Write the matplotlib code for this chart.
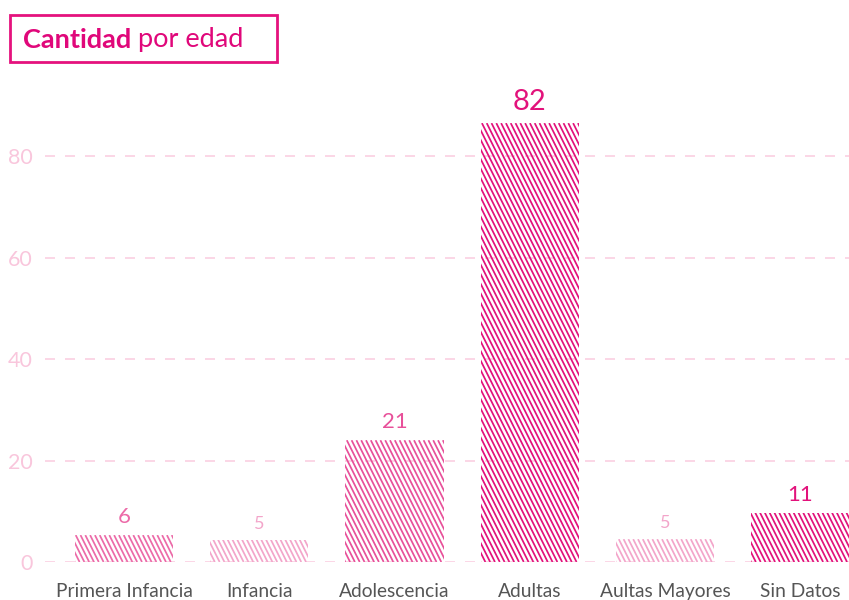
import matplotlib
matplotlib.use("Agg")
import matplotlib.pyplot as plt
from matplotlib.patches import Rectangle
from matplotlib.collections import LineCollection
import numpy as np

# data
categorias = ["Primera Infancia", "Infancia", "Adolescencia", "Adultas", "Aultas Mayores", "Sin Datos"]
cantidad = [6, 5, 21, 82, 5, 11]            # labels printed over the bars
altura = [5.3, 4.4, 24.0, 86.5, 4.5, 9.7]    # drawn bar heights as seen on the axis
y_ticks = [0, 20, 40, 60, 80]

colores = ["#ec6aa8", "#f3a5ca", "#e8509a", "#e2127b", "#f3a5ca", "#e2127b"]
tam_label = [16, 13, 16, 21, 13, 16]

plt.rcParams['font.family'] = ['Lato', 'DejaVu Sans']

fig = plt.figure(figsize=(8.49, 6.0), dpi=100)
W, H = 849, 600
ax = fig.add_axes([45 / W, 38 / H, (W - 45) / W, (562 - 80) / H])

ax.set_xlim(-0.584, 5.36)
ax.set_ylim(0, 95)

x = list(range(len(categorias)))
bars = ax.bar(x, altura, width=0.725, color="none", linewidth=0, zorder=3)

# steep diagonal hatching, drawn by hand and clipped to each bar
fig.canvas.draw()
to_px = ax.transData
to_data = ax.transData.inverted()
for i, b in enumerate(bars):
    (x0, y0), (x1, y1) = to_px.transform([(b.get_x(), 0), (b.get_x() + b.get_width(), b.get_height())])
    h = y1 - y0
    segs = []
    for sx in np.arange(x0 - h / 2 - 5, x1 + 5, 4.8):
        p = to_data.transform([(sx, y1), (sx + h / 2, y0)])
        segs.append(p)
    lc = LineCollection(segs, colors=colores[i], linewidths=1.25, zorder=3)
    ax.add_collection(lc)
    lc.set_clip_path(b)  # after add_collection, otherwise the axes patch wins
    ax.text(i, altura[i] + 1.6, str(cantidad[i]), ha="center", va="bottom",
            color=colores[i], fontsize=tam_label[i], clip_on=False)

ax.set_xticks(x)
ax.set_xticklabels(categorias, fontsize=13.8, color="#555555")
ax.set_yticks(y_ticks)
ax.set_yticklabels([str(v) for v in y_ticks], fontsize=15.5, color="#f9c6dc")
ax.tick_params(axis="both", length=0)
ax.tick_params(axis="x", pad=15)
ax.tick_params(axis="y", pad=9)
for yv in y_ticks:
    ax.axhline(yv, color="#fbcfe2", linewidth=1.2, linestyle=(0, (6, 6)), zorder=1)
for s in ax.spines.values():
    s.set_visible(False)

# title box
fig.patches.append(Rectangle((10 / W, 1 - 62 / H), 267 / W, 47 / H, transform=fig.transFigure,
                             fill=False, edgecolor="#e5127d", linewidth=2))
t1 = fig.text(23 / W, 1 - 40 / H, "Cantidad", fontsize=19.5, fontweight="bold",
              color="#e0077a", va="center")
fig.canvas.draw()
bb = t1.get_window_extent()
fig.text(bb.x1 / W + 7 / W, 1 - 40 / H, "por edad", fontsize=19.5, color="#e0077a", va="center")

fig.savefig("out.png", dpi=100)
